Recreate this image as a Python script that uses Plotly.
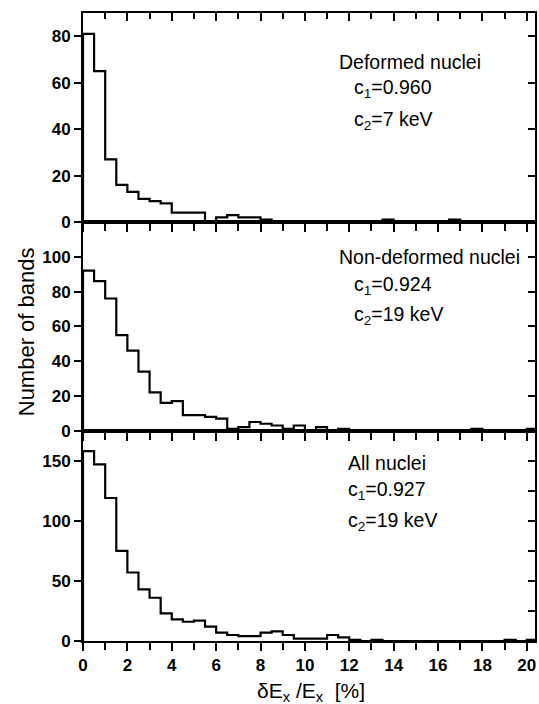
import numpy as np
import plotly.graph_objects as go

# ---- data (counts per 0.5 % bin, starting at 0) ----
bin_width = 0.5
deformed = [81, 65, 27, 16, 13, 10, 9, 8, 4, 4, 4, 0, 2, 3, 2, 2, 1, 0, 0, 0,
            0, 0, 0, 0, 0, 0, 0, 1, 0, 0, 0, 0, 0, 1, 0, 0, 0, 0, 0, 0, 0]
non_deformed = [92, 86, 76, 55, 46, 34, 22, 16, 17, 9, 9, 8, 7, 1, 2, 5, 4, 3, 1, 3,
                0, 2, 0, 1, 0, 0, 0, 0, 0, 0, 0, 0, 0, 0, 0, 1, 0, 0, 0, 0, 1]
all_nuclei = [158, 147, 119, 75, 57, 43, 36, 23, 18, 16, 17, 12, 7, 5, 4, 4, 7, 8, 5, 2,
              2, 2, 5, 3, 1, 0, 1, 0, 0, 0, 0, 0, 0, 0, 0, 0, 0, 0, 1, 0, 1]

panel_labels = ["Deformed nuclei", "Non-deformed nuclei", "All nuclei"]
c1_values = ["0.960", "0.924", "0.927"]
c2_values = ["7 keV", "19 keV", "19 keV"]
y_ranges = [90, 120, 175]
y_tickvals = [[0, 20, 40, 60, 80], [0, 20, 40, 60, 80, 100], [0, 50, 100, 150]]
y_right_ticks = [[20, 40, 60, 80], [20, 40, 60, 80, 100], [25, 50, 75, 100, 125, 150]]
x_tickvals = list(range(0, 21, 2))
x_minorvals = list(range(0, 21))

# ---- layout geometry ----
W, H = 539, 704
ML, MR, MT, MB = 83, 2, 13, 63
PW, PH = W - ML - MR, H - MT - MB
X_MAX = 20.37

def py(p):  # pixel y -> paper
    return (H - MB - p) / PH

def px(p):  # pixel x -> paper
    return (p - ML) / PW

domains = [[py(222), 1.0], [py(430.7), py(222)], [0.0, py(430.7)]]

fig = go.Figure()
series = [deformed, non_deformed, all_nuclei]
tickfont = dict(family="Liberation Sans, Arial", size=17, color="black", weight="bold")

for i, vals in enumerate(series):
    n = i + 1
    xs = [0.0] + [k * bin_width for k in range(len(vals) + 1)]
    ys = [0] + list(vals) + [vals[-1]]
    xa = "x" if n == 1 else f"x{n}"
    ya = "y" if n == 1 else f"y{n}"
    k = n + 3
    fig.add_trace(go.Scatter(x=xs, y=ys, mode="lines", line=dict(shape="hv", color="black", width=2.2),
                             xaxis=xa, yaxis=ya, showlegend=False, hoverinfo="skip"))
    xkey = "xaxis" if n == 1 else f"xaxis{n}"
    ykey = "yaxis" if n == 1 else f"yaxis{n}"
    fig.layout[xkey] = dict(
        domain=[0, 1], anchor=ya, range=[0, X_MAX], tickvals=x_tickvals,
        showticklabels=(n == 3), ticks="outside", ticklen=8, tickwidth=1.5, tickcolor="black",
        minor=dict(tickvals=x_minorvals, ticks="outside", ticklen=7, tickwidth=1.5, tickcolor="black"),
        showline=True, linecolor="black", linewidth=2, mirror=True, showgrid=False, zeroline=False,
        tickfont=tickfont,
    )
    fig.layout[ykey] = dict(
        domain=domains[i], anchor=xa, range=[0, y_ranges[i]], tickvals=y_tickvals[i],
        ticks="outside", ticklen=7, tickwidth=1.5, tickcolor="black",
        showline=True, linecolor="black", linewidth=2, mirror=True, showgrid=False, zeroline=False,
        tickfont=tickfont,
    )
    # inside ticks on top / right of each panel
    fig.layout[f"xaxis{k}"] = dict(
        overlaying=xa, anchor=f"y{k}", side="top", range=[0, X_MAX], tickvals=x_tickvals,
        showticklabels=False, ticks="inside", ticklen=8, tickwidth=1.5, tickcolor="black",
        minor=dict(tickvals=x_minorvals, ticks="inside", ticklen=6, tickwidth=1.5, tickcolor="black"),
        showline=False, showgrid=False, zeroline=False,
    )
    fig.layout[f"yaxis{k}"] = dict(
        overlaying=ya, anchor=f"x{k}", side="right", range=[0, y_ranges[i]], tickvals=y_right_ticks[i],
        showticklabels=False, ticks="inside", ticklen=7, tickwidth=1.5, tickcolor="black",
        showline=False, showgrid=False, zeroline=False,
    )
    fig.add_trace(go.Scatter(x=[None], y=[None], xaxis=f"x{k}", yaxis=f"y{k}",
                             showlegend=False, hoverinfo="skip"))

# ---- annotations ----
tfont = dict(family="Liberation Sans, Arial", size=19.5, color="black")
ann = [
    (338, 62, panel_labels[0]), (353, 88, f"c<sub>1</sub>={c1_values[0]}"), (353, 120, f"c<sub>2</sub>={c2_values[0]}"),
    (338, 257, panel_labels[1]), (353, 285, f"c<sub>1</sub>={c1_values[1]}"), (353, 316, f"c<sub>2</sub>={c2_values[1]}"),
    (347, 463, panel_labels[2]), (347, 491, f"c<sub>1</sub>={c1_values[2]}"), (347, 521, f"c<sub>2</sub>={c2_values[2]}"),
]
for x0, y0, t in ann:
    fig.add_annotation(x=px(x0), y=py(y0), xref="paper", yref="paper", text=t, showarrow=False,
                       xanchor="left", yanchor="middle", font=tfont)

fig.add_annotation(x=px(312), y=py(692), xref="paper", yref="paper", showarrow=False,
                   text="δE<sub>x</sub> /E<sub>x</sub>  [%]", xanchor="center", yanchor="middle",
                   font=dict(family="Liberation Sans, Arial", size=21, color="black"))
fig.add_annotation(x=px(26), y=py(332), xref="paper", yref="paper", showarrow=False,
                   text="Number of bands", textangle=-90, xanchor="center", yanchor="middle",
                   font=dict(family="Liberation Sans, Arial", size=22, color="black"))

fig.update_layout(width=W, height=H, margin=dict(l=ML, r=MR, t=MT, b=MB),
                  paper_bgcolor="white", plot_bgcolor="white", showlegend=False)

fig.write_html("out.html")
